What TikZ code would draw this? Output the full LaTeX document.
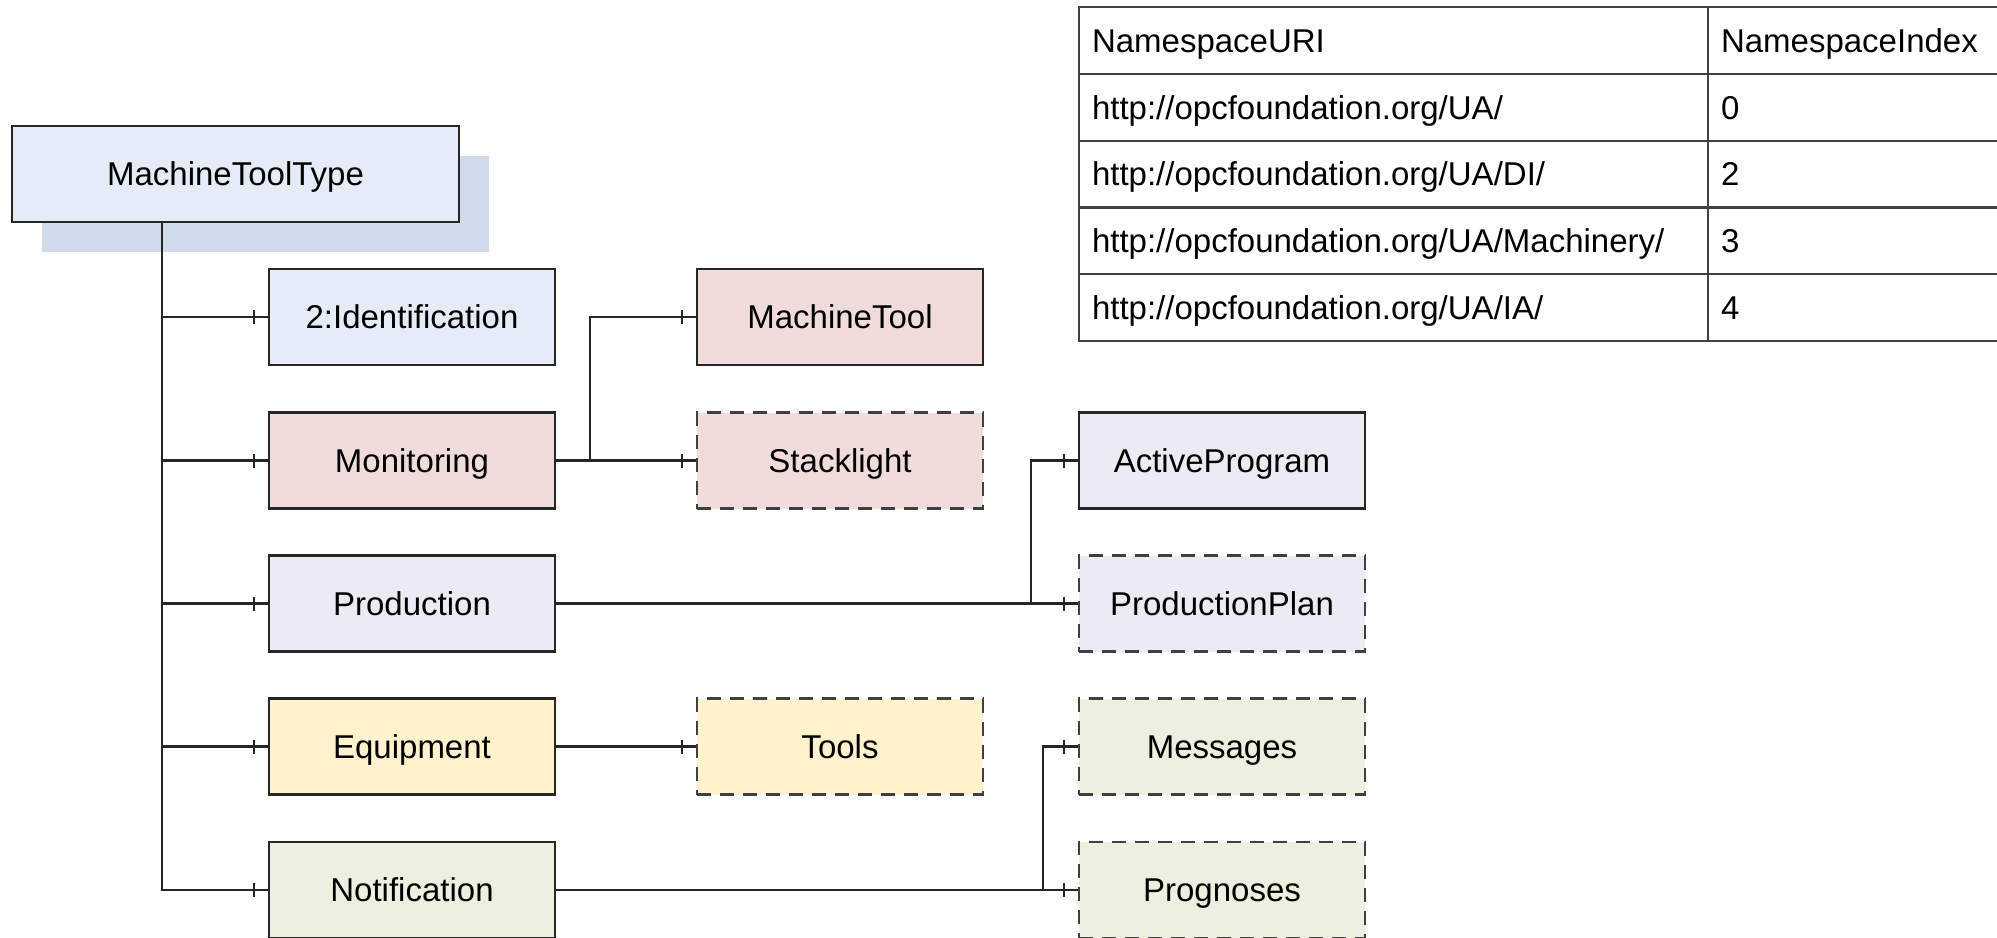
\documentclass[tikz,border=0pt]{standalone}
\usepackage{fontspec}
\setmainfont{Liberation Sans}
\usetikzlibrary{shadows}
\definecolor{bluec}{HTML}{E6ECF7}
\definecolor{shadowc}{HTML}{CFDAEA}
\definecolor{pinkc}{HTML}{F2DCDB}
\definecolor{lavc}{HTML}{ECEAF2}
\definecolor{yelc}{HTML}{FFF2CC}
\definecolor{greenc}{HTML}{EBF1DE}
\definecolor{linec}{HTML}{262626}
\newcommand\tickmark[1]{\draw[conn] ([xshift=-7pt,yshift=3.5pt]#1.west) -- ([xshift=-7pt,yshift=-3.5pt]#1.west);}
\begin{document}
\begin{tikzpicture}[x=0.5pt,y=-0.5pt,
  txt/.style={font=\fontsize{16.5pt}{19pt}\selectfont},
  box/.style={txt, draw=linec, line width=1.2pt, minimum width=143pt, minimum height=48pt, inner sep=0pt, text height=11.8pt, text depth=0pt},
  opt/.style={box, draw=black!75, dash pattern=on 7pt off 4.5pt},
  conn/.style={draw=linec, line width=1.1pt},
  cell/.style={txt, draw=black!75, line width=1.1pt, minimum height=33.4pt, inner xsep=6.5pt, inner ysep=0pt, align=left, text height=11.8pt, text depth=0pt}]
\useasboundingbox (0,0) rectangle (1997,937);
\fill[white] (0,0) rectangle (1997,937);

% main type
\node[box, fill=bluec, minimum width=223.5pt,
  drop shadow={shadow xshift=15pt, shadow yshift=-15pt, fill=shadowc, opacity=1, draw=none}] (mtt) at (235.5,174) {MachineToolType};

% column 1
\node[box, fill=bluec]  (ident) at (412,317)   {2:Identification};
\node[box, fill=pinkc]  (mon)   at (412,460.5) {Monitoring};
\node[box, fill=lavc]   (prod)  at (412,603.5) {Production};
\node[box, fill=yelc]   (equip) at (412,746.5) {Equipment};
\node[box, fill=greenc] (notif) at (412,890)   {Notification};

% column 2
\node[box, fill=pinkc] (mtool) at (840,317)   {MachineTool};
\node[opt, fill=pinkc] (stack) at (840,460.5) {Stacklight};
\node[opt, fill=yelc]  (tools) at (840,746.5) {Tools};

% column 3
\node[box, fill=lavc]   (aprog) at (1222,460.5) {ActiveProgram};
\node[opt, fill=lavc]   (pplan) at (1222,603.5) {ProductionPlan};
\node[opt, fill=greenc] (msgs)  at (1222,746.5) {Messages};
\node[opt, fill=greenc] (progn) at (1222,890)   {Prognoses};

% branch coordinates
\coordinate (tk) at (162,0);
\coordinate (sm) at (590,0);
\coordinate (sp) at (1031,0);
\coordinate (sn) at (1043,0);

% trunk
\draw[conn] (mtt.south -| tk) |- (notif.west);
\draw[conn] (tk |- ident.west) -- (ident.west);
\draw[conn] (tk |- mon.west) -- (mon.west);
\draw[conn] (tk |- prod.west) -- (prod.west);
\draw[conn] (tk |- equip.west) -- (equip.west);
\tickmark{ident}\tickmark{mon}\tickmark{prod}\tickmark{equip}\tickmark{notif}

% monitoring
\draw[conn] (mon.east) -- (mon.east -| sm) |- (mtool.west);
\draw[conn] (mon.east) -- (stack.west);
\tickmark{mtool}\tickmark{stack}

% production
\draw[conn] (prod.east) -- (prod.east -| sp) |- (aprog.west);
\draw[conn] (prod.east) -- (pplan.west);
\tickmark{aprog}\tickmark{pplan}

% equipment
\draw[conn] (equip.east) -- (tools.west);
\tickmark{tools}

% notification
\draw[conn] (notif.east) -- (notif.east -| sn) |- (msgs.west);
\draw[conn] (notif.east) -- (progn.west);
\tickmark{msgs}\tickmark{progn}

% namespace table
\node[cell, text width=301.5pt] (h1) at (1393.5,40.4)  {NamespaceURI};
\node[cell, text width=147pt]   (h2) at (1868,40.4)    {NamespaceIndex};
\node[cell, text width=301.5pt] (a1) at (1393.5,107.2) {http://opcfoundation.org/UA/};
\node[cell, text width=147pt]   (a2) at (1868,107.2)   {0};
\node[cell, text width=301.5pt] (b1) at (1393.5,174)   {http://opcfoundation.org/UA/DI/};
\node[cell, text width=147pt]   (b2) at (1868,174)     {2};
\node[cell, text width=301.5pt] (c1) at (1393.5,240.8) {http://opcfoundation.org/UA/Machinery/};
\node[cell, text width=147pt]   (c2) at (1868,240.8)   {3};
\node[cell, text width=301.5pt] (d1) at (1393.5,307.6) {http://opcfoundation.org/UA/IA/};
\node[cell, text width=147pt]   (d2) at (1868,307.6)   {4};
\end{tikzpicture}
\end{document}
